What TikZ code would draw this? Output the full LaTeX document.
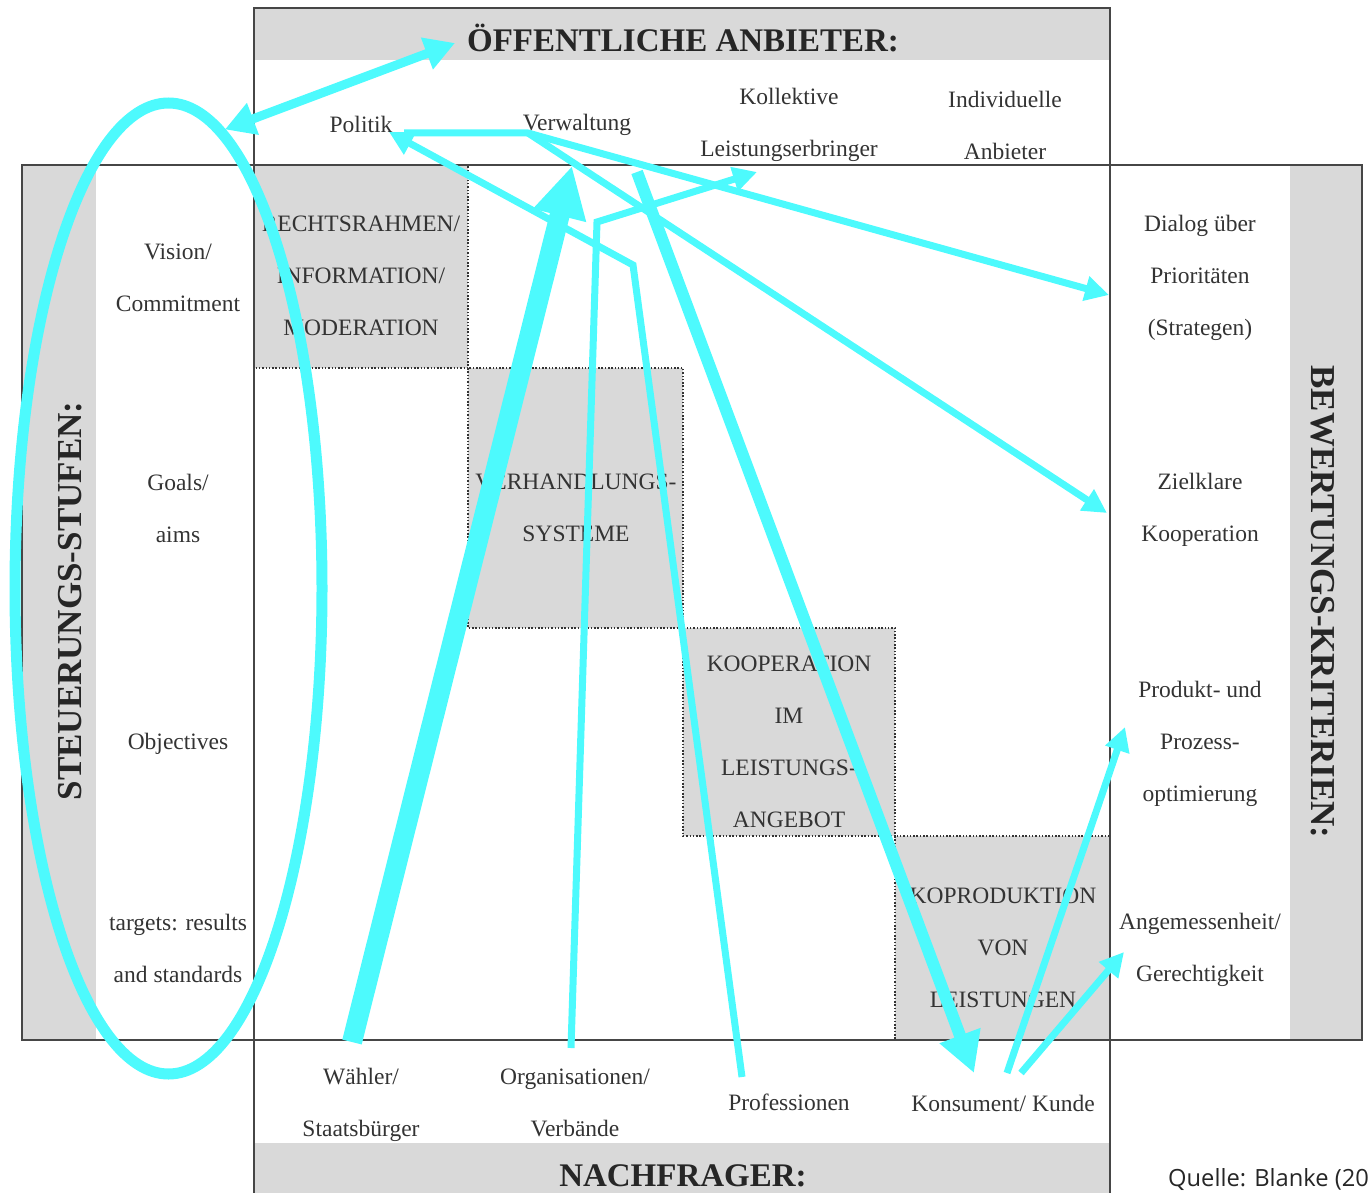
\documentclass[tikz,border=0pt]{standalone}
\usepackage{fontspec}
\setmainfont{Liberation Serif}
\newfontfamily\quellefont{Open Sans}
\usetikzlibrary{arrows.meta,shapes.geometric}
\definecolor{cellgray}{RGB}{217,217,217}
\definecolor{framegray}{RGB}{70,70,70}
\definecolor{marker}{RGB}{77,250,253}
\begin{document}
\begin{tikzpicture}[
    x=1pt, y=-1pt,
    font=\fontsize{23.5}{52}\selectfont,
    lbl/.style={align=center, inner sep=0pt, text=black!80},
    head/.style={font=\fontsize{33}{40}\selectfont\bfseries, inner sep=0pt, text=black!85},
    side/.style={font=\fontsize{35}{40}\selectfont\bfseries, inner sep=0pt, text=black!85},
    frame/.style={draw=framegray, line width=2pt},
    cell/.style={fill=cellgray, draw=black!80, line width=1.5pt, dash pattern=on 1.5pt off 1.8pt},
    arr/.style={draw=marker, line width=7pt, -{Triangle[length=24pt,width=24pt]}},
    darr/.style={draw=marker, line width=9pt,
                 {Triangle[length=30pt,width=32pt]}-{Triangle[length=30pt,width=32pt]}},
    karr/.style={draw=marker, line width=12pt, -{Triangle[length=40pt,width=41pt]}},
    warr/.style={draw=marker, line width=20pt, -{Triangle[length=51pt,width=51pt]}}
  ]
    \useasboundingbox (0,0) rectangle (1370,1193);
    \clip (0,0) rectangle (1370,1193);
    \fill[cellgray] (254,8) rectangle (1110,60);
    \fill[cellgray] (254,1143) rectangle (1110,1200);
    \fill[cellgray] (22,165) rectangle (96,1040);
    \fill[cellgray] (1290,165) rectangle (1362,1040);
    \draw[cell] (254,165) rectangle (468,368);
    \draw[cell] (468,368) rectangle (683,628);
    \draw[cell] (683,628) rectangle (895,836);
    \draw[cell] (895,836) rectangle (1110,1040);
    \draw[frame] (254,1200) -- (254,8) -- (1110,8) -- (1110,1200);
    \draw[frame] (22,165) rectangle (1362,1040);

    \node[head, anchor=base] (anbieter) at (683,52) {ÖFFENTLICHE ANBIETER:};
    \node[lbl] (politik) at (361,124) {Politik};
    \node[lbl] (verwaltung) at (577,125) {Verwaltung};
    \node[lbl] (kollektiv) at (789,125) {Kollektive\\Leistungserbringer};
    \node[lbl] (individuell) at (1005,125) {Individuelle\\Anbieter};

    \node[side, rotate=90] (steuerung) at (70,601) {STEUERUNGS-STUFEN:};
    \node[lbl] (vision) at (178,278) {Vision/\\Commitment};
    \node[lbl] (goals) at (178,508) {Goals/\\aims};
    \node[lbl] (objectives) at (178,744) {Objectives};
    \node[lbl] (targets) at (178,948) {targets: results\\and standards};

    \node[lbl] (recht) at (361,276) {RECHTSRAHMEN/\\INFORMATION/\\MODERATION};
    \node[lbl] (verhandlung) at (576,508) {VERHANDLUNGS-\\SYSTEME};
    \node[lbl] (kooperation) at (789,742) {KOOPERATION\\IM\\LEISTUNGS-\\ANGEBOT};
    \node[lbl] (koproduktion) at (1003,948) {KOPRODUKTION\\VON\\LEISTUNGEN};

    \node[lbl] (dialog) at (1200,278) {Dialog über\\Prioritäten\\(Strategen)};
    \node[lbl] (zielklar) at (1200,510) {Zielklare\\Kooperation};
    \node[lbl] (produkt) at (1200,744) {Produkt- und\\Prozess-\\optimierung};
    \node[lbl] (angemessen) at (1200,950) {Angemessenheit/\\Gerechtigkeit};
    \node[side, rotate=-90] (bewertung) at (1323,602) {BEWERTUNGS-KRITERIEN:};

    \node[lbl] (waehler) at (361,1105) {Wähler/\\Staatsbürger};
    \node[lbl] (organisation) at (575,1103) {Organisationen/\\Verbände};
    \node[lbl] (profession) at (789,1102) {Professionen};
    \node[lbl] (konsument) at (1003,1103) {Konsument/ Kunde};
    \node[head, anchor=base] (nachfrage) at (683,1186) {NACHFRAGER:};
    \node[font=\quellefont\fontsize{23.7}{28}\selectfont, anchor=base west,
          inner sep=0pt, text=black!85] (quelle) at (1168,1186) {Quelle: Blanke (20};

    \coordinate (anb-tip) at (455,43);
    \coordinate (pol-tip) at (389,132);
    \coordinate (pol-end) at (404,133);
    \coordinate (vw) at (528,133);
    \coordinate (dia-tip) at (1109,295);
    \coordinate (ziel-tip) at (1107,513);
    \coordinate (prof-end) at (742,1077);
    \coordinate (prof-bend) at (633,265);
    \coordinate (org-end) at (571,1048);
    \coordinate (org-bend) at (597,222);
    \coordinate (koll-tip) at (757,172);
    \coordinate (wahl-end) at (352,1042);
    \coordinate (wahl-tip) at (572,166);
    \coordinate (kons-start) at (637,172);
    \coordinate (kons-tip) at (974,1073);
    \coordinate (kons-a) at (1007,1073);
    \coordinate (kons-b) at (1021,1073);
    \coordinate (prod-tip) at (1125,727);
    \coordinate (ang-tip) at (1124,952);

    \node[ellipse, draw=marker, line width=11pt, minimum width=307pt,
          minimum height=971pt, inner sep=0pt] (stufen) at (168.5,588.5) {};
    \draw[darr] (stufen.83) -- (anb-tip);
    \draw[arr] (pol-end) -- (vw) -- (dia-tip);
    \draw[arr] (vw) -- (ziel-tip);
    \draw[arr] (prof-end) -- (prof-bend) -- (pol-tip);
    \draw[arr] (org-end) -- (org-bend) -- (koll-tip);
    \draw[warr] (wahl-end) -- (wahl-tip);
    \draw[karr] (kons-start) -- (kons-tip);
    \draw[arr] (kons-a) -- (prod-tip);
    \draw[arr] (kons-b) -- (ang-tip);
\end{tikzpicture}
\end{document}
